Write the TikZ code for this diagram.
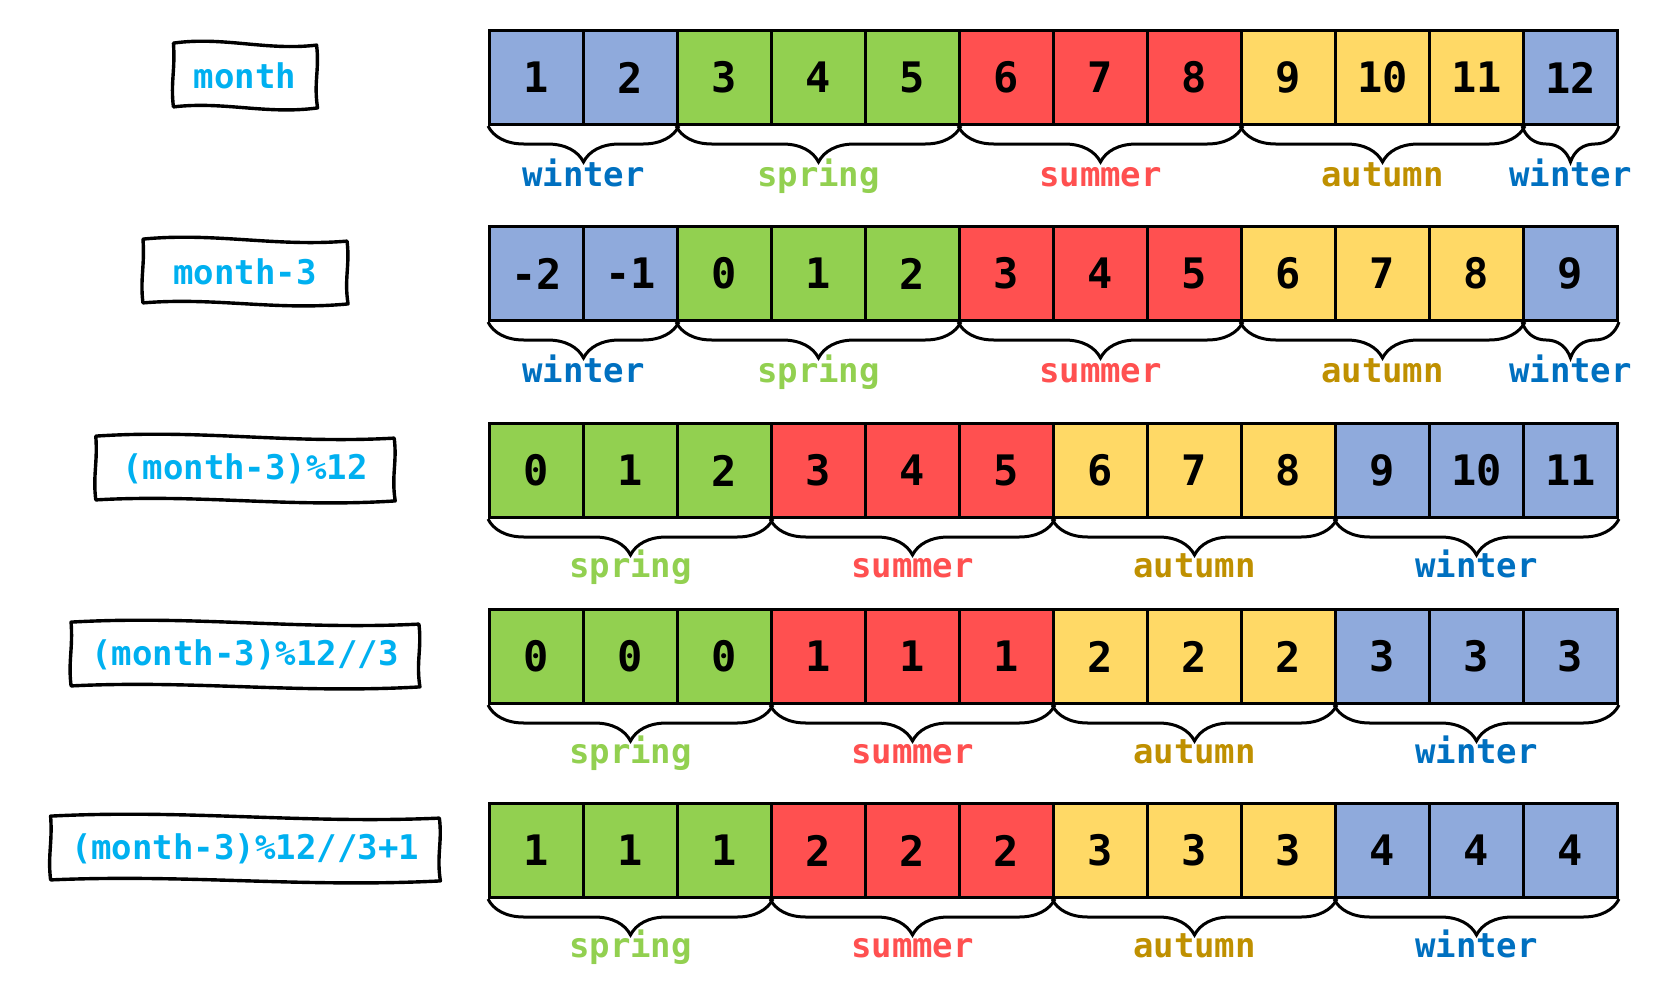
\documentclass[tikz,border=0pt]{standalone}
\usepackage{fontspec}
\setmonofont{DejaVu Sans Mono}
\usetikzlibrary{calc,decorations.pathreplacing}

\definecolor{cwin}{HTML}{8FAADC}
\definecolor{cspr}{HTML}{92D050}
\definecolor{csum}{HTML}{FF5050}
\definecolor{caut}{HTML}{FFD966}
\definecolor{twin}{HTML}{0070C0}
\definecolor{tspr}{HTML}{92D050}
\definecolor{tsum}{HTML}{FF5050}
\definecolor{taut}{HTML}{BF9000}
\definecolor{tlab}{HTML}{00B0F0}

\tikzset{
    cell/.style = {draw, line width = 1.5pt, minimum size = 47pt, inner sep = 0pt, anchor = north west,
                   font = \ttfamily\bfseries\fontsize{21}{21}\selectfont},
    labelbox/.style = {minimum height = 31.5pt, inner xsep = 10pt, text = tlab,
                       font = \ttfamily\bfseries\fontsize{17}{17}\selectfont},
    frameline/.style = {line width = 1.7pt, line join = round},
    brc/.style = {line width = 1.5pt, decorate, decoration = {brace, mirror, amplitude = 18pt}},
    season/.style = {anchor = base, font = \ttfamily\bfseries\fontsize{17}{17}\selectfont}
}

% hand drawn frame round a named node
\newcommand{\wavyframe}[1]{%
    \draw [frameline] ($(#1.north west) + (0, 1)$)
        .. controls ($(#1.north west)!0.35!(#1.north east) + (0, 8)$) and ($(#1.north west)!0.65!(#1.north east) + (0, -7)$) .. ($(#1.north east) + (0, -1)$)
        .. controls ($(#1.north east)!0.4!(#1.south east) + (3, 0)$) and ($(#1.north east)!0.6!(#1.south east) + (-3, 0)$) .. ($(#1.south east) + (1, 0)$)
        .. controls ($(#1.south east)!0.35!(#1.south west) + (0, -7)$) and ($(#1.south east)!0.65!(#1.south west) + (0, 7)$) .. ($(#1.south west) + (0, 1)$)
        .. controls ($(#1.south west)!0.4!(#1.north west) + (-3, 0)$) and ($(#1.south west)!0.6!(#1.north west) + (2, 0)$) .. cycle;
}

\begin{document}
\begin{tikzpicture}[x = 0.5pt, y = 0.5pt]
    \useasboundingbox (0, 0) rectangle (1672, -981);

    % left labels
    \node [labelbox] (lm1) at (245, -76) {month};
    \node [labelbox, inner xsep = 15pt] (lm2) at (245, -272) {month-3};
    \node [labelbox, inner xsep = 13pt] (lm3) at (245, -469) {(month-3)\%12};
    \node [labelbox] (lm4) at (245, -655) {(month-3)\%12//3};
    \node [labelbox] (lm5) at (245, -849) {(month-3)\%12//3+1};
    \foreach \n in {lm1, lm2, lm3, lm4, lm5}
        \wavyframe{\n};

    % row 1
    \foreach \v/\c [count = \i from 0] in {1/cwin, 2/cwin, 3/cspr, 4/cspr, 5/cspr, 6/csum, 7/csum, 8/csum, 9/caut, 10/caut, 11/caut, 12/cwin}
        \node [cell, fill = \c] (a\i) at ({488 + 94*\i}, -29) {\v};
    % row 2
    \foreach \v/\c [count = \i from 0] in {-2/cwin, -1/cwin, 0/cspr, 1/cspr, 2/cspr, 3/csum, 4/csum, 5/csum, 6/caut, 7/caut, 8/caut, 9/cwin}
        \node [cell, fill = \c] (b\i) at ({488 + 94*\i}, -225) {\v};
    % row 3
    \foreach \v/\c [count = \i from 0] in {0/cspr, 1/cspr, 2/cspr, 3/csum, 4/csum, 5/csum, 6/caut, 7/caut, 8/caut, 9/cwin, 10/cwin, 11/cwin}
        \node [cell, fill = \c] (c\i) at ({488 + 94*\i}, -422) {\v};
    % row 4
    \foreach \v/\c [count = \i from 0] in {0/cspr, 0/cspr, 0/cspr, 1/csum, 1/csum, 1/csum, 2/caut, 2/caut, 2/caut, 3/cwin, 3/cwin, 3/cwin}
        \node [cell, fill = \c] (d\i) at ({488 + 94*\i}, -608) {\v};
    % row 5
    \foreach \v/\c [count = \i from 0] in {1/cspr, 1/cspr, 1/cspr, 2/csum, 2/csum, 2/csum, 3/caut, 3/caut, 3/caut, 4/cwin, 4/cwin, 4/cwin}
        \node [cell, fill = \c] (e\i) at ({488 + 94*\i}, -802) {\v};

    % braces
    \foreach \r in {a, b}
        \foreach \s/\e/\n/\c in {0/1/winter/twin, 2/4/spring/tspr, 5/7/summer/tsum, 8/10/autumn/taut, 11/11/winter/twin} {
            \draw [brc] (\r\s.south west) -- (\r\e.south east);
            \node [season, text = \c] (s\r\s) at ($(\r\s.south west)!0.5!(\r\e.south east) + (0, -60)$) {\n};
        }
    \foreach \r in {c, d, e}
        \foreach \s/\e/\n/\c in {0/2/spring/tspr, 3/5/summer/tsum, 6/8/autumn/taut, 9/11/winter/twin} {
            \draw [brc] (\r\s.south west) -- (\r\e.south east);
            \node [season, text = \c] (s\r\s) at ($(\r\s.south west)!0.5!(\r\e.south east) + (0, -58)$) {\n};
        }
\end{tikzpicture}
\end{document}
